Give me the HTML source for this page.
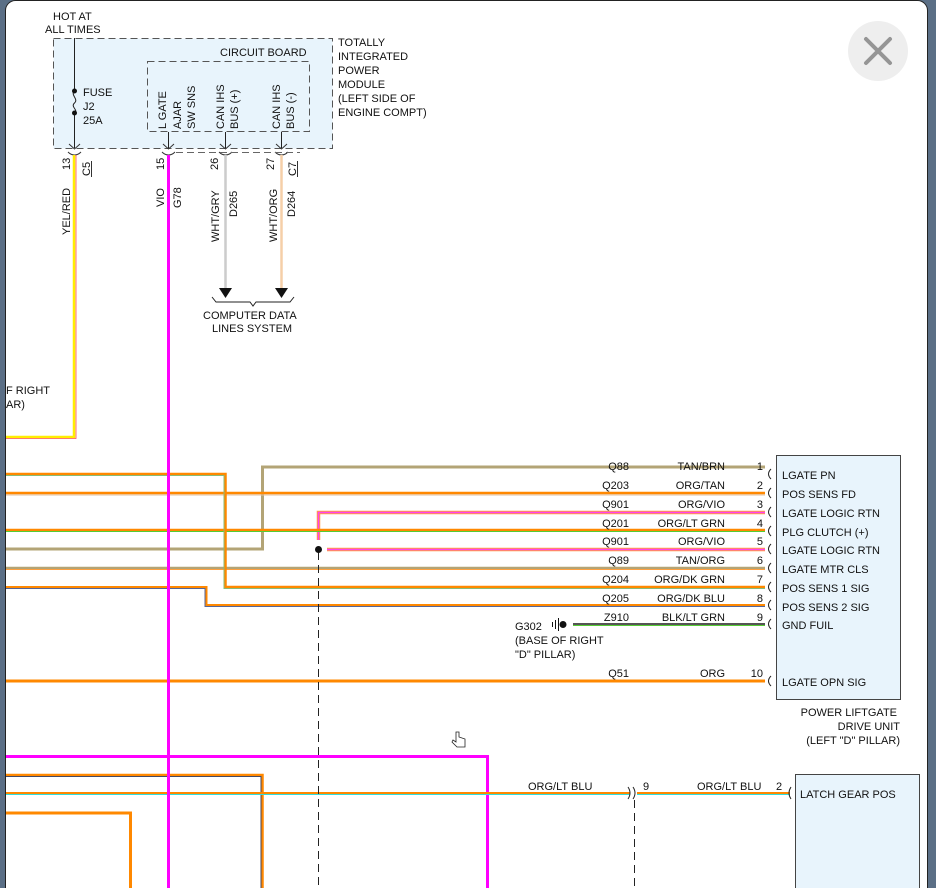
<!DOCTYPE html>
<html><head><meta charset="utf-8"><style>
html,body{margin:0;padding:0;background:#5b6f86;width:936px;height:888px;overflow:hidden}
svg{display:block}
text{font-family:"Liberation Sans",Arial,sans-serif;font-size:11px;fill:#111}
</style></head><body>
<svg width="936" height="888" viewBox="0 0 936 888" xmlns="http://www.w3.org/2000/svg">
<rect x="5.5" y="0.5" width="922" height="900" rx="10" fill="#fff" stroke="#222" stroke-width="1"/>
<circle cx="878" cy="51" r="30" fill="#eeeeee"/>
<path d="M866 39 L890 63 M890 39 L866 63" stroke="#959595" stroke-width="4" stroke-linecap="round"/>

<rect x="53.5" y="38.5" width="279" height="110" fill="#e8f4fc" stroke="#555" stroke-dasharray="7,4"/>
<rect x="147.5" y="61.5" width="162" height="70" fill="none" stroke="#555" stroke-dasharray="7,4"/>
<text x="53" y="20">HOT AT</text>
<text x="45" y="33">ALL TIMES</text>
<text x="220" y="56">CIRCUIT BOARD</text>
<text x="338" y="46">TOTALLY</text>
<text x="338" y="60">INTEGRATED</text>
<text x="338" y="74">POWER</text>
<text x="338" y="88">MODULE</text>
<text x="338" y="102">(LEFT SIDE OF</text>
<text x="338" y="116">ENGINE COMPT)</text>
<line x1="74.5" y1="38" x2="74.5" y2="91" stroke="#222"/>
<path d="M74.5 91 C70 95,79 99,74.5 103 C70 107,79 110,74.5 113" fill="none" stroke="#222"/>
<line x1="74.5" y1="113" x2="74.5" y2="148" stroke="#222"/>
<circle cx="74.5" cy="91" r="2.5" fill="#111"/><circle cx="74.5" cy="113" r="2.5" fill="#111"/>
<text x="83" y="96">FUSE</text><text x="83" y="110">J2</text><text x="83" y="124">25A</text>
<g>
<text transform="translate(166,129) rotate(-90)">L GATE</text>
<text transform="translate(181,129) rotate(-90)">AJAR</text>
<text transform="translate(195,129) rotate(-90)">SW SNS</text>
<text transform="translate(224,129) rotate(-90)">CAN IHS</text>
<text transform="translate(238,129) rotate(-90)">BUS (+)</text>
<text transform="translate(280,129) rotate(-90)">CAN IHS</text>
<text transform="translate(294,129) rotate(-90)">BUS (-)</text>
</g>
<line x1="168.5" y1="132" x2="168.5" y2="148" stroke="#222"/>
<line x1="225.5" y1="132" x2="225.5" y2="148" stroke="#222"/>
<line x1="281.5" y1="132" x2="281.5" y2="148" stroke="#222"/>
<g fill="none" stroke="#333" stroke-width="1">
<path d="M69 144 L74.5 149 L80 144"/><path d="M68 152 Q71 155 74.5 155 Q78 155 81 152"/>
<path d="M163 144 L168.5 149 L174 144"/><path d="M162 152 Q165 155 168.5 155 Q172 155 175 152"/>
<path d="M220 144 L225.5 149 L231 144"/><path d="M219 152 Q222 155 225.5 155 Q229 155 232 152"/>
<path d="M276 144 L281.5 149 L287 144"/><path d="M275 152 Q278 155 281.5 155 Q285 155 288 152"/>
</g>
<line x1="176" y1="152.5" x2="300" y2="152.5" stroke="#666" stroke-dasharray="7,4"/>
<text transform="translate(70,170) rotate(-90)">13</text>
<text transform="translate(90,176) rotate(-90)">C5</text>
<line x1="91.5" y1="161" x2="91.5" y2="177" stroke="#333"/>
<text transform="translate(164,170) rotate(-90)">15</text>
<text transform="translate(218,170) rotate(-90)">26</text>
<text transform="translate(274,170) rotate(-90)">27</text>
<text transform="translate(296,176) rotate(-90)">C7</text>
<line x1="297.5" y1="161" x2="297.5" y2="177" stroke="#333"/>
<text transform="translate(70,235) rotate(-90)">YEL/RED</text>
<text transform="translate(164,207) rotate(-90)">VIO</text>
<text transform="translate(181,208) rotate(-90)">G78</text>
<text transform="translate(219,242) rotate(-90)">WHT/GRY</text>
<text transform="translate(237,217) rotate(-90)">D265</text>
<text transform="translate(277,242) rotate(-90)">WHT/ORG</text>
<text transform="translate(295,217) rotate(-90)">D264</text>

<path d="M74 155 V437 H6" fill="none" stroke="#ffee00" stroke-width="2.5"/>
<path d="M76 155 V438.5 H6" fill="none" stroke="#ff5050" stroke-width="0.8"/>
<line x1="225.5" y1="155" x2="225.5" y2="289" stroke="#ccc" stroke-width="2.5"/>
<line x1="281.5" y1="155" x2="281.5" y2="289" stroke="#f5cfa8" stroke-width="2.5"/>
<path d="M219 288 H232 L225.5 298 Z" fill="#111"/>
<path d="M275 288 H288 L281.5 298 Z" fill="#111"/>
<path d="M212 297 L216 302 H250 L253 306 L256 302 H290 L294 297" fill="none" stroke="#222"/>
<text x="203" y="319">COMPUTER DATA</text>
<text x="212" y="332">LINES SYSTEM</text>
<text x="6" y="394">F RIGHT</text>
<text x="6" y="408">AR)</text>

<g fill="none">
<path d="M765 467 H262.5 V549 H6" stroke="#b3a476" stroke-width="3"/>
<path d="M765 493 H6" stroke="#ff8800" stroke-width="2.5"/><path d="M765 495 H6" stroke="#e0c0a0" stroke-width="1"/>
<path d="M765 512.5 H318.5 V540" stroke="#ff9944" stroke-width="3.5"/><path d="M765 512.5 H318.5 V540" stroke="#ff44ee" stroke-width="1.5"/>
<path d="M765 530 H6" stroke="#ff8800" stroke-width="2.5"/><path d="M765 531.5 H6" stroke="#55cc33" stroke-width="1"/>
<path d="M765 549.5 H327" stroke="#ff9944" stroke-width="3.5"/><path d="M765 549.5 H327" stroke="#ff44ee" stroke-width="1.5"/>
<path d="M765 568 H6" stroke="#b3a476" stroke-width="2.5"/><path d="M765 569.5 H6" stroke="#ffa040" stroke-width="1"/>
<path d="M765 587 H225.5 V474 H6" stroke="#ff8800" stroke-width="2.5"/><path d="M765 588.5 H224 V475.5 H6" stroke="#88bb77" stroke-width="1"/>
<path d="M765 605 H206.5 V587 H6" stroke="#ff8800" stroke-width="2"/><path d="M765 606.5 H205 V588.5 H6" stroke="#556699" stroke-width="1"/>
<path d="M573 624 H765" stroke="#555" stroke-width="2"/><path d="M573 625.5 H765" stroke="#55cc33" stroke-width="1"/>
<path d="M765 681 H6" stroke="#ff8800" stroke-width="3"/>
<path d="M6 756.5 H487.5 V888" stroke="#ff00ff" stroke-width="3"/>
<path d="M6 775 H262.5 V888" stroke="#ff8800" stroke-width="2.5"/><path d="M6 776.5 H261 V888" stroke="#444a66" stroke-width="1"/>
<path d="M6 793 H630" stroke="#ff8800" stroke-width="2"/><path d="M6 794.5 H630" stroke="#33dddd" stroke-width="1"/>
<path d="M637 793 H790" stroke="#ff8800" stroke-width="2"/><path d="M637 794.5 H790" stroke="#33dddd" stroke-width="1"/>
<path d="M6 813 H130.5 V888" stroke="#ff8800" stroke-width="3"/>
<line x1="168.5" y1="155" x2="168.5" y2="888" stroke="#ff00ff" stroke-width="3"/>
<line x1="318.5" y1="552" x2="318.5" y2="888" stroke="#222" stroke-dasharray="8,5"/>
<line x1="634.5" y1="800" x2="634.5" y2="888" stroke="#222" stroke-dasharray="8,5"/>
</g>
<circle cx="318.5" cy="549.5" r="3.5" fill="#111"/>
<path d="M628 787 Q632 793 628 799 M633 787 Q637 793 633 799" fill="none" stroke="#222"/>
<text x="643" y="790">9</text>
<text x="528" y="790">ORG/LT BLU</text>
<text x="697" y="790">ORG/LT BLU</text>
<text x="776" y="790">2</text>
<path d="M791 787 Q787 793 791 799" fill="none" stroke="#222"/>

<circle cx="563" cy="624.5" r="3.5" fill="#111"/>
<line x1="558.5" y1="618" x2="558.5" y2="631" stroke="#111"/>
<line x1="555.5" y1="620" x2="555.5" y2="629" stroke="#111"/>
<line x1="552.5" y1="622" x2="552.5" y2="627" stroke="#111"/>
<text x="515" y="630">G302</text>
<text x="515" y="644">(BASE OF RIGHT</text>
<text x="515" y="658">"D" PILLAR)</text>

<rect x="776.5" y="455.5" width="124" height="244" fill="#e8f4fc" stroke="#444"/>
<g fill="none" stroke="#222">
<path d="M771 469 Q766 474 771 479"/><path d="M771 488 Q766 493 771 498"/>
<path d="M771 507 Q766 512 771 517"/><path d="M771 526 Q766 531 771 536"/>
<path d="M771 544 Q766 549 771 554"/><path d="M771 563 Q766 568 771 573"/>
<path d="M771 582 Q766 587 771 592"/><path d="M771 600 Q766 605 771 610"/>
<path d="M771 619 Q766 624 771 629"/><path d="M771 676 Q766 681 771 686"/>
</g>
<g>
<text x="782" y="479">LGATE PN</text>
<text x="782" y="498">POS SENS FD</text>
<text x="782" y="517">LGATE LOGIC RTN</text>
<text x="782" y="536">PLG CLUTCH (+)</text>
<text x="782" y="554">LGATE LOGIC RTN</text>
<text x="782" y="573">LGATE MTR CLS</text>
<text x="782" y="592">POS SENS 1 SIG</text>
<text x="782" y="611">POS SENS 2 SIG</text>
<text x="782" y="629">GND FUIL</text>
<text x="782" y="686">LGATE OPN SIG</text>
</g>
<g text-anchor="end">
<text x="763" y="470">1</text><text x="763" y="489">2</text><text x="763" y="508">3</text>
<text x="763" y="527">4</text><text x="763" y="545">5</text><text x="763" y="564">6</text>
<text x="763" y="583">7</text><text x="763" y="602">8</text><text x="763" y="621">9</text>
<text x="763" y="677">10</text>
<text x="725" y="470">TAN/BRN</text><text x="725" y="489">ORG/TAN</text><text x="725" y="508">ORG/VIO</text>
<text x="725" y="527">ORG/LT GRN</text><text x="725" y="545">ORG/VIO</text><text x="725" y="564">TAN/ORG</text>
<text x="725" y="583">ORG/DK GRN</text><text x="725" y="602">ORG/DK BLU</text><text x="725" y="621">BLK/LT GRN</text>
<text x="725" y="677">ORG</text>
<text x="629" y="470">Q88</text><text x="629" y="489">Q203</text><text x="629" y="508">Q901</text>
<text x="629" y="527">Q201</text><text x="629" y="545">Q901</text><text x="629" y="564">Q89</text>
<text x="629" y="583">Q204</text><text x="629" y="602">Q205</text><text x="629" y="621">Z910</text>
<text x="629" y="677">Q51</text>
<text x="897" y="716">POWER LIFTGATE</text>
<text x="900" y="730">DRIVE UNIT</text>
<text x="900" y="744">(LEFT "D" PILLAR)</text>
</g>
<rect x="795.5" y="774.5" width="124" height="120" fill="#e8f4fc" stroke="#444"/>
<text x="800" y="798">LATCH GEAR POS</text>
<path d="M456 732 V742 L453 740 L452 742 L457 747 H465 V739 L459 737 V732 Z" fill="#fff" stroke="#222" stroke-width="0.8"/>
</svg>
</body></html>
